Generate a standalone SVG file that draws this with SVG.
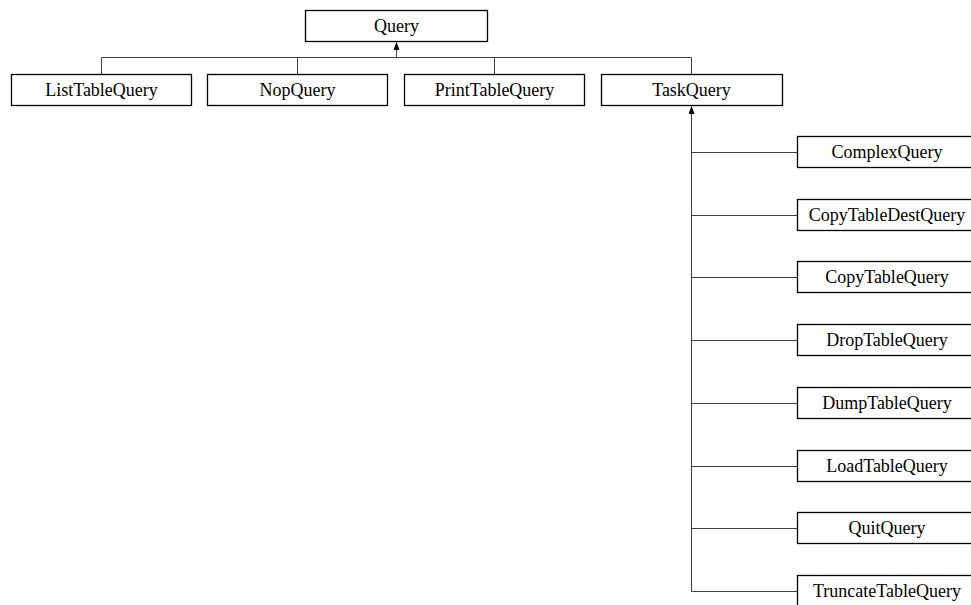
<svg xmlns="http://www.w3.org/2000/svg" width="971" height="605" viewBox="0 0 971 605">
<style>
.box{fill:#fff;stroke:#000;stroke-width:1.3}
.lbl{font-family:"Liberation Serif",serif;font-size:18px;fill:#000;text-anchor:middle}
.edge{fill:none;stroke:#404040;stroke-width:1}
</style>
<defs>
<marker id="arr" viewBox="0 0 8 6" refX="8" refY="3" markerWidth="8" markerHeight="6" markerUnits="userSpaceOnUse" orient="auto">
<path d="M0,0 L8,3 L0,6 Z" fill="#000"/>
</marker>
</defs>
<rect width="971" height="605" fill="#fff"/>
<g id="connectors">
<path class="edge" d="M101.5,74 V57.5 H691.5 V74"/>
<path class="edge" d="M297.5,57.5 V74 M494.5,57.5 V74"/>
<path class="edge" d="M396.5,57.5 V42" marker-end="url(#arr)"/>
<path class="edge" d="M691.5,591.5 V106" marker-end="url(#arr)"/>
<path class="edge" d="M691.5,152.5 H797 M691.5,215.5 H797 M691.5,277.5 H797 M691.5,340.5 H797 M691.5,403.5 H797 M691.5,466.5 H797 M691.5,528.5 H797 M691.5,591.5 H797"/>
</g>
<g id="Query"><rect class="box" x="305.5" y="10.5" width="182" height="31"/><text class="lbl" x="396.5" y="32">Query</text></g>
<g id="ListTableQuery"><rect class="box" x="11.5" y="74.5" width="180" height="31"/><text class="lbl" x="101.5" y="96">ListTableQuery</text></g>
<g id="NopQuery"><rect class="box" x="207.5" y="74.5" width="180" height="31"/><text class="lbl" x="297.5" y="96">NopQuery</text></g>
<g id="PrintTableQuery"><rect class="box" x="404.5" y="74.5" width="180" height="31"/><text class="lbl" x="494.5" y="96">PrintTableQuery</text></g>
<g id="TaskQuery"><rect class="box" x="601.5" y="74.5" width="181" height="31"/><text class="lbl" x="691.5" y="96">TaskQuery</text></g>
<g id="ComplexQuery"><rect class="box" x="797.5" y="136.5" width="180" height="31"/><text class="lbl" x="887" y="158">ComplexQuery</text></g>
<g id="CopyTableDestQuery"><rect class="box" x="797.5" y="199.5" width="180" height="31"/><text class="lbl" x="887" y="221">CopyTableDestQuery</text></g>
<g id="CopyTableQuery"><rect class="box" x="797.5" y="261.5" width="180" height="31"/><text class="lbl" x="887" y="283">CopyTableQuery</text></g>
<g id="DropTableQuery"><rect class="box" x="797.5" y="324.5" width="180" height="31"/><text class="lbl" x="887" y="346">DropTableQuery</text></g>
<g id="DumpTableQuery"><rect class="box" x="797.5" y="387.5" width="180" height="31"/><text class="lbl" x="887" y="409">DumpTableQuery</text></g>
<g id="LoadTableQuery"><rect class="box" x="797.5" y="450.5" width="180" height="31"/><text class="lbl" x="887" y="472">LoadTableQuery</text></g>
<g id="QuitQuery"><rect class="box" x="797.5" y="512.5" width="180" height="31"/><text class="lbl" x="887" y="534">QuitQuery</text></g>
<g id="TruncateTableQuery"><rect class="box" x="797.5" y="575.5" width="180" height="31"/><text class="lbl" x="887" y="597">TruncateTableQuery</text></g>
</svg>
